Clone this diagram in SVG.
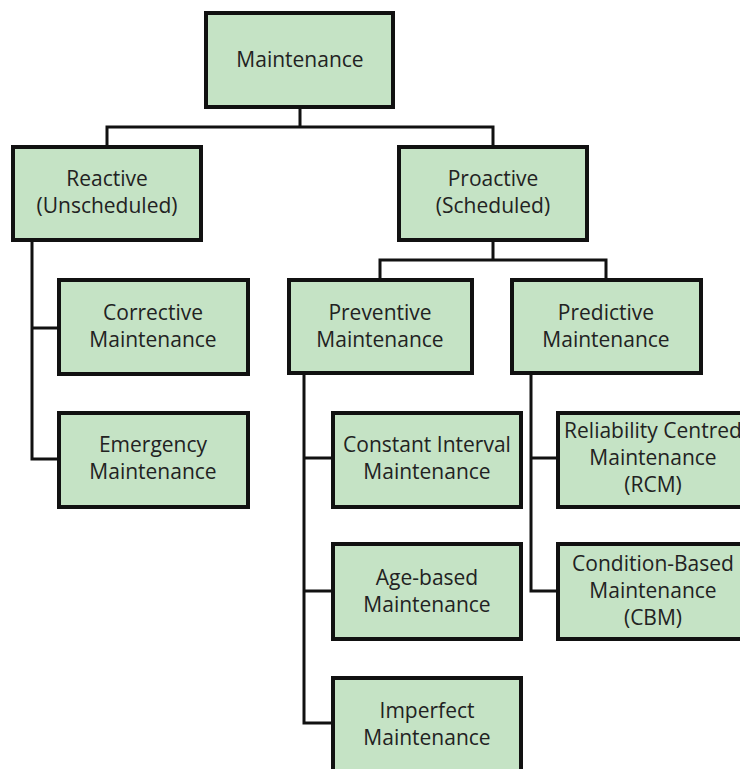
<svg xmlns="http://www.w3.org/2000/svg" width="740" height="769" viewBox="0 0 740 769">
  <style>
    .box { fill: #c5e3c5; stroke: #111; stroke-width: 4; }
    .lbl { font-family: "Open Sans", "Liberation Sans", sans-serif; font-size: 21px; fill: #222; text-anchor: middle; }
    .wire { fill: none; stroke: #111; stroke-width: 3; stroke-linejoin: miter; }
  </style>
  <rect width="740" height="769" fill="#fff"/>

  <g id="connectors">
    <!-- root to level 1 -->
    <path class="wire" d="M300 107 V127 M107 147 V127 H493 V147"/>
    <!-- reactive trunk -->
    <path class="wire" d="M32 240 V459 H59 M32 328 H59"/>
    <!-- proactive to level 2 -->
    <path class="wire" d="M493 240 V260 M380 280 V260 H606 V280"/>
    <!-- preventive trunk -->
    <path class="wire" d="M304 373 V723 H333 M304 458 H333 M304 591 H333"/>
    <!-- predictive trunk -->
    <path class="wire" d="M531 373 V591 H558 M531 458 H558"/>
  </g>

  <g id="maintenance">
    <rect class="box" x="206" y="13" width="187" height="94"/>
    <text class="lbl" x="300" y="67">Maintenance</text>
  </g>

  <g id="reactive">
    <rect class="box" x="13" y="147" width="188" height="93"/>
    <text class="lbl" x="107" y="186">Reactive</text>
    <text class="lbl" x="107" y="213">(Unscheduled)</text>
  </g>

  <g id="proactive">
    <rect class="box" x="399" y="147" width="188" height="93"/>
    <text class="lbl" x="493" y="186">Proactive</text>
    <text class="lbl" x="493" y="213">(Scheduled)</text>
  </g>

  <g id="corrective">
    <rect class="box" x="59" y="280" width="189" height="94"/>
    <text class="lbl" x="153" y="320">Corrective</text>
    <text class="lbl" x="153" y="347">Maintenance</text>
  </g>

  <g id="emergency">
    <rect class="box" x="59" y="413" width="189" height="94"/>
    <text class="lbl" x="153" y="452">Emergency</text>
    <text class="lbl" x="153" y="479">Maintenance</text>
  </g>

  <g id="preventive">
    <rect class="box" x="289" y="280" width="183" height="93"/>
    <text class="lbl" x="380" y="320">Preventive</text>
    <text class="lbl" x="380" y="347">Maintenance</text>
  </g>

  <g id="predictive">
    <rect class="box" x="512" y="280" width="189" height="93"/>
    <text class="lbl" x="606" y="320">Predictive</text>
    <text class="lbl" x="606" y="347">Maintenance</text>
  </g>

  <g id="constant-interval">
    <rect class="box" x="333" y="413" width="188" height="94"/>
    <text class="lbl" x="427" y="452">Constant Interval</text>
    <text class="lbl" x="427" y="479">Maintenance</text>
  </g>

  <g id="age-based">
    <rect class="box" x="333" y="544" width="188" height="95"/>
    <text class="lbl" x="427" y="585">Age-based</text>
    <text class="lbl" x="427" y="612">Maintenance</text>
  </g>

  <g id="imperfect">
    <rect class="box" x="333" y="678" width="188" height="96"/>
    <text class="lbl" x="427" y="718">Imperfect</text>
    <text class="lbl" x="427" y="745">Maintenance</text>
  </g>

  <g id="rcm">
    <rect class="box" x="558" y="413" width="190" height="94"/>
    <text class="lbl" x="653" y="438">Reliability Centred</text>
    <text class="lbl" x="653" y="465">Maintenance</text>
    <text class="lbl" x="653" y="492">(RCM)</text>
  </g>

  <g id="cbm">
    <rect class="box" x="558" y="544" width="190" height="95"/>
    <text class="lbl" x="653" y="571">Condition-Based</text>
    <text class="lbl" x="653" y="598">Maintenance</text>
    <text class="lbl" x="653" y="625">(CBM)</text>
  </g>
</svg>
